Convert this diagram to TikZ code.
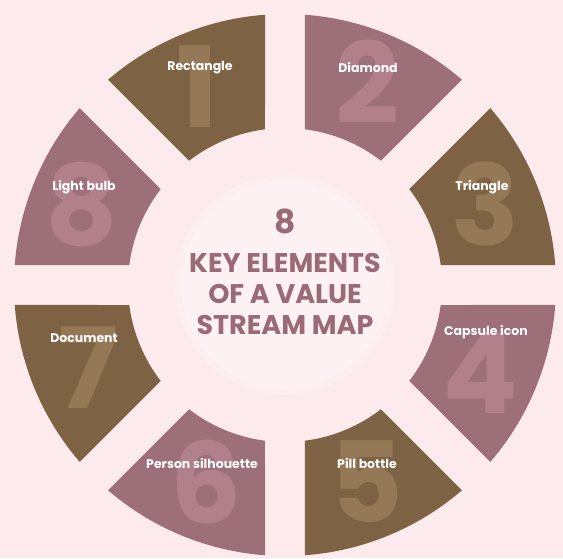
\documentclass[tikz,border=0pt]{standalone}
\usepackage{fontspec}
\setmainfont{Poppins}
\usepackage{xcolor}
\usetikzlibrary{calc}
\definecolor{bgpink}{HTML}{FCEAEC}
\definecolor{hubpink}{HTML}{FDF1F3}
\definecolor{segbrown}{HTML}{7D6343}
\definecolor{segmauve}{HTML}{9C6F79}
\definecolor{numbrown}{HTML}{957856}
\definecolor{nummauve}{HTML}{B2808B}
\definecolor{titlemauve}{HTML}{9A6B76}
\tikzset{
  every node/.style = {font = \bfseries\fontsize{12.5}{14}\selectfont}
}
\tikzset{
  label/.style = {text=white},
  bignum/.style = {font=\bfseries\fontsize{112}{112}\selectfont,
    inner sep=0pt, text height=80pt, text depth=0pt},
  title/.style = {text=titlemauve, align=center,
    font=\bfseries\fontsize{27}{31}\selectfont}
}

\begin{document}
\begin{tikzpicture}[x=1pt,y=1pt]
\def\R{271}
\def\r{157}
\def\ao{4.23}
\def\ai{7.32}

% Page and hub
\fill[bgpink] (-285,-273) rectangle (278,285);
\useasboundingbox (-285,-273) rectangle (278,285);
\fill[hubpink!60!bgpink] (0,0) circle (110);
\fill[hubpink] (0,0) circle (104);

% The ring, counter-clockwise from the right
%   6 | 7      (pieces: 3 2 1 8 7 6 5 4)
\fill[segbrown] ({0+\ao}:\R) arc[start angle={0+\ao}, end angle={45-\ao}, radius=\R]
  -- ({45-\ai}:\r) arc[start angle={45-\ai}, end angle={0+\ai}, radius=\r] -- cycle;
\fill[segmauve] ({45+\ao}:\R) arc[start angle={45+\ao}, end angle={90-\ao}, radius=\R]
  -- ({90-\ai}:\r) arc[start angle={90-\ai}, end angle={45+\ai}, radius=\r] -- cycle;
\fill[segbrown] ({90+\ao}:\R) arc[start angle={90+\ao}, end angle={135-\ao}, radius=\R]
  -- ({135-\ai}:\r) arc[start angle={135-\ai}, end angle={90+\ai}, radius=\r] -- cycle;
\fill[segmauve] ({135+\ao}:\R) arc[start angle={135+\ao}, end angle={180-\ao}, radius=\R]
  -- ({180-\ai}:\r) arc[start angle={180-\ai}, end angle={135+\ai}, radius=\r] -- cycle;
\fill[segbrown] ({180+\ao}:\R) arc[start angle={180+\ao}, end angle={225-\ao}, radius=\R]
  -- ({225-\ai}:\r) arc[start angle={225-\ai}, end angle={180+\ai}, radius=\r] -- cycle;
\fill[segmauve] ({225+\ao}:\R) arc[start angle={225+\ao}, end angle={270-\ao}, radius=\R]
  -- ({270-\ai}:\r) arc[start angle={270-\ai}, end angle={225+\ai}, radius=\r] -- cycle;
\fill[segbrown] ({270+\ao}:\R) arc[start angle={270+\ao}, end angle={315-\ao}, radius=\R]
  -- ({315-\ai}:\r) arc[start angle={315-\ai}, end angle={270+\ai}, radius=\r] -- cycle;
\fill[segmauve] ({315+\ao}:\R) arc[start angle={315+\ao}, end angle={360-\ao}, radius=\R]
  -- ({360-\ai}:\r) arc[start angle={360-\ai}, end angle={315+\ai}, radius=\r] -- cycle;

% Faded numbers
\node[bignum, text=numbrown] (n1) at (-87,198) {1};
\node[bignum, text=nummauve] (n2) at (82,202) {2};
\node[bignum, text=numbrown] (n3) at (200,80) {3};
\node[bignum, text=nummauve] (n4) at (195,-88) {4};
\node[bignum, text=numbrown] (n5) at (82,-197) {5};
\node[bignum, text=nummauve] (n6) at (-79,-198) {6};
\node[bignum, text=numbrown] (n7) at (-197,-83) {7};
\node[bignum, text=nummauve] (n8) at (-203,80) {8};

% Element names
\node[label] (rect) at (-85,217) {Rectangle};
\node[label] (diam) at (83,217) {Diamond};
\node[label] (tri) at (197,98) {Triangle};
\node[label] (caps) at (201,-47) {Capsule icon};
\node[label] (pill) at (82,-179) {Pill bottle};
\node[label] (pers) at (-83,-179) {Person silhouette};
\node[label] (doc) at (-201,-53) {Document};
\node[label] (bulb) at (-201,98) {Light bulb};

% Hub text
\node[title, font=\bfseries\fontsize{33}{33}\selectfont] (eight) at (0,64) {8};
\node[title] (head) at (0,-9) {KEY ELEMENTS\\OF A VALUE\\STREAM MAP};
\end{tikzpicture}
\end{document}
